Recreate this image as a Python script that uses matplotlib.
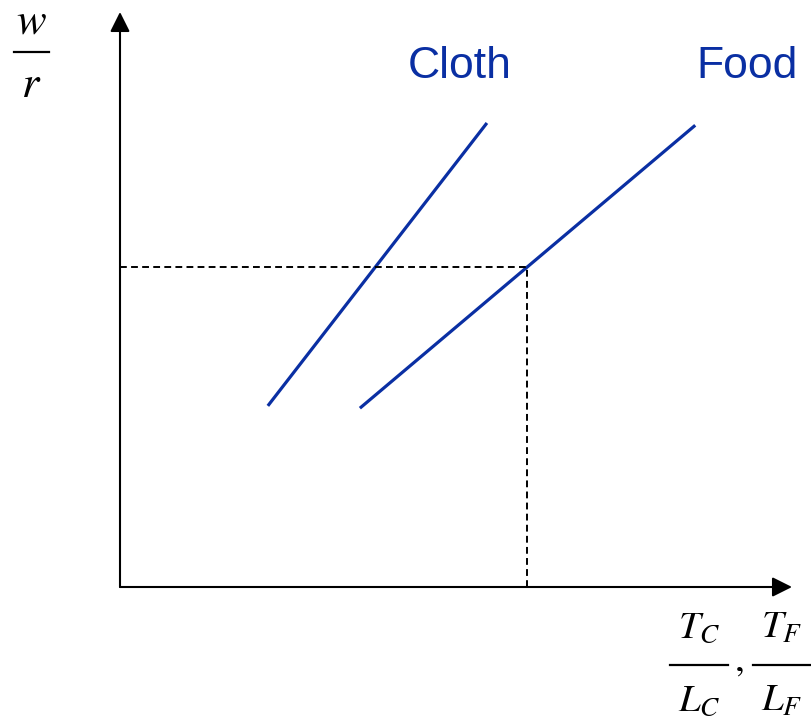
import matplotlib.pyplot as plt

# line end points in chart units (origin at the axes corner)
cloth_x = [2.20, 5.46]
cloth_y = [3.15, 8.07]
food_x = [3.57, 8.56]
food_y = [3.11, 8.03]
# wage-rental ratio and the matching food input ratio
wr_level = 5.57
food_ratio = 6.06

blue = '#0A2FA3'

plt.rcParams['mathtext.fontset'] = 'stix'
fig = plt.figure(figsize=(8.12, 7.18), dpi=100)
ax = fig.add_axes([120 / 812, (718 - 587) / 718, 672 / 812, 575 / 718])
ax.set_xlim(0, 10)
ax.set_ylim(0, 10)
ax.axis('off')

# axes with arrow heads
arrow = dict(arrowstyle='-|>,head_length=0.8,head_width=0.4', color='black',
             lw=1.5, mutation_scale=15, shrinkA=0, shrinkB=0)
ax.annotate('', xy=(10, 0), xytext=(0, 0), arrowprops=arrow, annotation_clip=False)
ax.annotate('', xy=(0, 10), xytext=(0, 0), arrowprops=arrow, annotation_clip=False)

ax.plot(cloth_x, cloth_y, color=blue, lw=2.3, solid_capstyle='butt')
ax.plot(food_x, food_y, color=blue, lw=2.3, solid_capstyle='butt')

ax.plot([0, food_ratio], [wr_level, wr_level], color='black', lw=1.4,
        dashes=(3.5, 2.2))
ax.plot([food_ratio, food_ratio], [0, wr_level], color='black', lw=1.4,
        dashes=(3.5, 2.2))

ax.text(5.06, 9.05, 'Cloth', color=blue, fontsize=32, family='Liberation Sans',
        ha='center', va='center')
ax.text(9.33, 9.05, 'Food', color=blue, fontsize=32, family='Liberation Sans',
        ha='center', va='center')

# overlay in pixel units for the fraction labels
lab = fig.add_axes([0, 0, 1, 1])
lab.set_xlim(0, 812)
lab.set_ylim(718, 0)
lab.axis('off')


def fraction(x0, x1, ybar, num, den, size, num_base, den_base):
    xc = (x0 + x1) / 2
    lab.text(xc, ybar - num_base, num, fontsize=size, ha='center', va='baseline')
    lab.plot([x0, x1], [ybar, ybar], color='black', lw=1.6)
    lab.text(xc, ybar + den_base, den, fontsize=size, ha='center', va='baseline')


fraction(14, 49, 52, '$w$', '$r$', 32, 18, 45)
fraction(670, 728, 665, '$T_C$', '$L_C$', 28, 27, 46)
fraction(753, 811, 665, '$T_F$', '$L_F$', 28, 27, 46)
lab.text(739, 671, '$,$', fontsize=28, ha='center', va='baseline')

fig.savefig('out.png', dpi=100)
